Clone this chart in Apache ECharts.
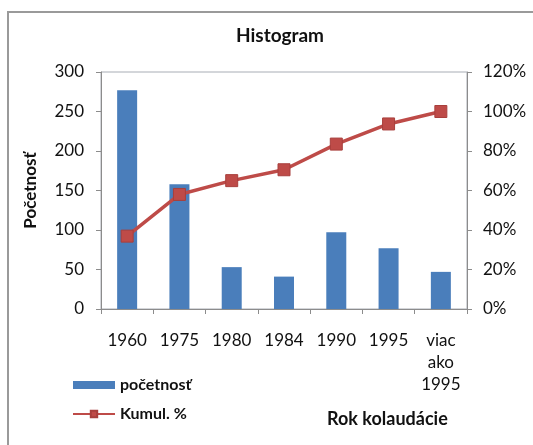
<!DOCTYPE html>
<html><head><meta charset="utf-8">
<script src="https://cdn.jsdelivr.net/npm/echarts@6/dist/echarts.min.js"></script>
<style>html,body{margin:0;padding:0;background:#fff}#c{width:533px;height:445px}</style>
</head><body><div id="c"></div>
<script>
const categories = ['1960', '1975', '1980', '1984', '1990', '1995', 'viac\nako\n1995'];
const pocetnost = [277, 158, 53, 41, 97, 77, 47];
const kumul = [36.9, 58.0, 65.0, 70.5, 83.5, 93.7, 100];
const leftTicks = [0, 50, 100, 150, 200, 250, 300];
const rightTicks = [0, 20, 40, 60, 80, 100, 120];

const font = 'Lato, "Open Sans", sans-serif';
const axisGray = '#8c8c8c';
const chart = echarts.init(document.getElementById('c'), null, {renderer: 'canvas'});
chart.setOption({
  animation: false,
  backgroundColor: '#fff',
  title: {
    text: 'Histogram', left: 275, top: 21, textAlign: 'center',
    textStyle: {fontFamily: font, fontSize: 19, fontWeight: 'bold', color: '#111'}
  },
  graphic: [
    {type: 'rect', shape: {x: 8, y: 12, width: 700, height: 600}, style: {fill: 'none', stroke: '#9a9a9a', lineWidth: 2}, z: -1},
    {type: 'text', left: 327, top: 410, style: {text: 'Rok kolaudácie', fontFamily: font, fontSize: 18, fontWeight: 'bold', fill: '#111'}}
  ],
  legend: {
    orient: 'vertical', left: 67, top: 371, itemGap: 11, itemWidth: 42, itemHeight: 8,
    textStyle: {fontFamily: font, fontSize: 16, lineHeight: 18, fontWeight: 'bold', color: '#111'},
    data: [
      {name: 'početnosť', icon: 'rect'},
      {name: 'Kumul. %'}
    ]
  },
  grid: {left: 101, right: 66, top: 72, bottom: 136, show: true, borderColor: '#a8adb5', borderWidth: 1},
  xAxis: {
    type: 'category', data: categories, boundaryGap: true,
    axisLine: {lineStyle: {color: axisGray}},
    axisTick: {show: true, length: 5, alignWithLabel: false, lineStyle: {color: axisGray}},
    axisLabel: {fontFamily: font, fontSize: 17, color: '#111', margin: 21, lineHeight: 22, interval: 0}
  },
  yAxis: [
    {
      type: 'value', min: 0, max: 300, interval: 50, position: 'left',
      name: 'Početnosť', nameLocation: 'middle', nameRotate: 90, nameGap: 62,
      nameTextStyle: {fontFamily: font, fontSize: 17, fontWeight: 'bold', color: '#111'},
      axisLine: {show: true, lineStyle: {color: axisGray}},
      axisTick: {show: true, length: 5, lineStyle: {color: axisGray}},
      splitLine: {show: false},
      axisLabel: {fontFamily: font, fontSize: 17, color: '#111', margin: 17}
    },
    {
      type: 'value', min: 0, max: 120, interval: 20, position: 'right',
      axisLine: {show: true, lineStyle: {color: axisGray}},
      axisTick: {show: true, length: 5, lineStyle: {color: axisGray}},
      splitLine: {show: false},
      axisLabel: {fontFamily: font, fontSize: 17, color: '#111', margin: 16, formatter: '{value}%'}
    }
  ],
  series: [
    {
      name: 'početnosť', type: 'bar', data: pocetnost, barWidth: 20, yAxisIndex: 0,
      itemStyle: {color: '#4a7ebb'}
    },
    {
      name: 'Kumul. %', type: 'line', data: kumul, yAxisIndex: 1,
      symbol: 'rect', symbolSize: 12,
      lineStyle: {color: '#be4b48', width: 3.5},
      itemStyle: {color: '#be4b48', borderColor: '#a83f3c', borderWidth: 1}
    }
  ]
});
</script></body></html>
